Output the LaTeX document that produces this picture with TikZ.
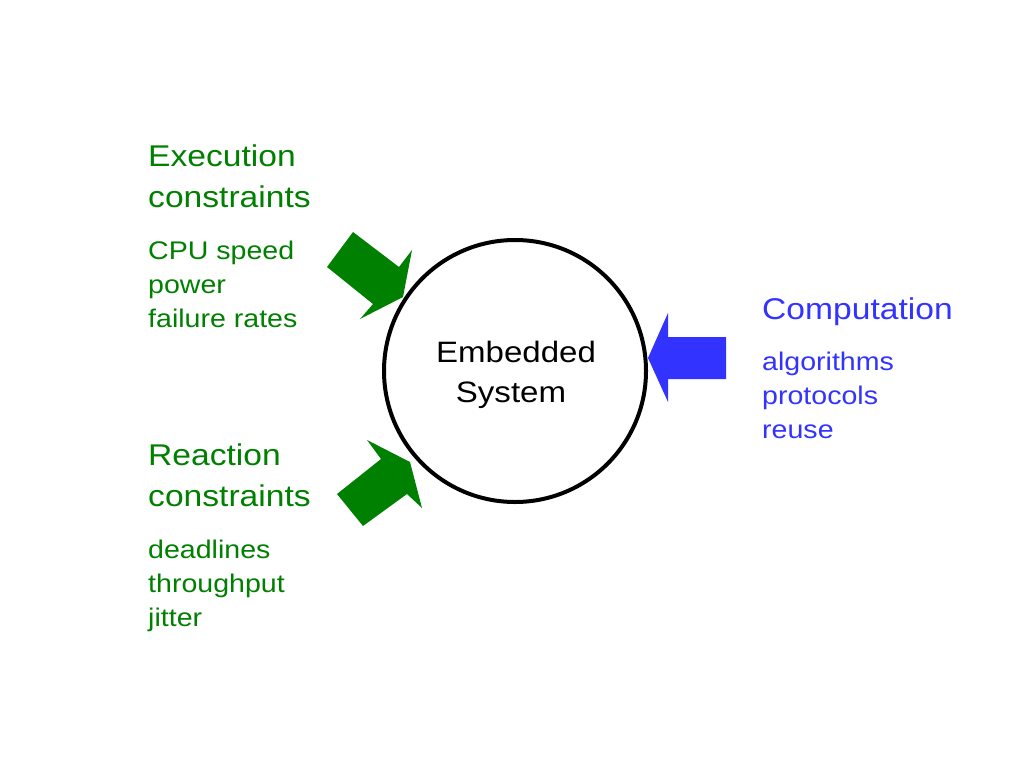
\documentclass[tikz,border=0pt]{standalone}
\usepackage{fontspec}
\setmainfont{Liberation Sans}[FakeStretch=1.12]
\definecolor{cgreen}{RGB}{0,128,0}
\definecolor{cblue}{RGB}{51,51,255}
\newcommand{\linesat}[2]{\vtop{\baselineskip=#1pt\lineskiplimit=-20pt\lineskip=0pt #2}}
\tikzset{
  head/.style={anchor=base west, inner sep=0pt, font=\fontsize{30}{36}\selectfont},
  body/.style={anchor=base west, inner sep=0pt, font=\fontsize{25.5}{34}\selectfont},
  grn/.style={text=cgreen},
  blu/.style={text=cblue},
  garrow/.style={fill=cgreen, draw=none},
  barrow/.style={fill=cblue, draw=none},
}
\begin{document}
\begin{tikzpicture}[x=1pt,y=-1pt]
\useasboundingbox[fill=white] (0,0) rectangle (1024,768);
% system circle
\node[circle, draw, line width=4pt, minimum size=262pt, inner sep=0pt] (sys) at (515,371) {};
\node[anchor=base, inner sep=0pt, font=\fontsize{29.5}{40}\selectfont] (emb) at (516,362) {Embedded};
\node[anchor=base, inner sep=0pt, font=\fontsize{29.5}{40}\selectfont] (systxt) at (511,402) {System};
% execution constraints
\node[head,grn] (exh) at (148,166) {\linesat{41}{\hbox{Execution}\hbox{constraints}}};
\node[body,grn] (exb) at (148,259) {\linesat{34}{\hbox{CPU speed}\hbox{power}\hbox{failure rates}}};
% reaction constraints
\node[head,grn] (reh) at (148,465) {\linesat{41}{\hbox{Reaction}\hbox{constraints}}};
\node[body,grn] (reb) at (148,558.5) {\linesat{34}{\hbox{deadlines}\hbox{throughput}\hbox{jitter}}};
% computation
\node[head,blu] (coh) at (762,319) {Computation};
\node[body,blu] (cob) at (762,370) {\linesat{34}{\hbox{algorithms}\hbox{protocols}\hbox{reuse}}};
% block arrows
\fill[garrow] (327,267) -- (353,232) -- (399,267) -- (412,250) -- (403,297) -- (360,319) -- (373,304) -- cycle;
\fill[garrow] (337,494) -- (381,459) -- (367,440) -- (410,462) -- (422,508) -- (407,494) -- (363,526) -- cycle;
\fill[barrow] (726,337) -- (668,337) -- (668,313) -- (648,358) -- (668,402) -- (668,379) -- (726,379) -- cycle;
\end{tikzpicture}
\end{document}
